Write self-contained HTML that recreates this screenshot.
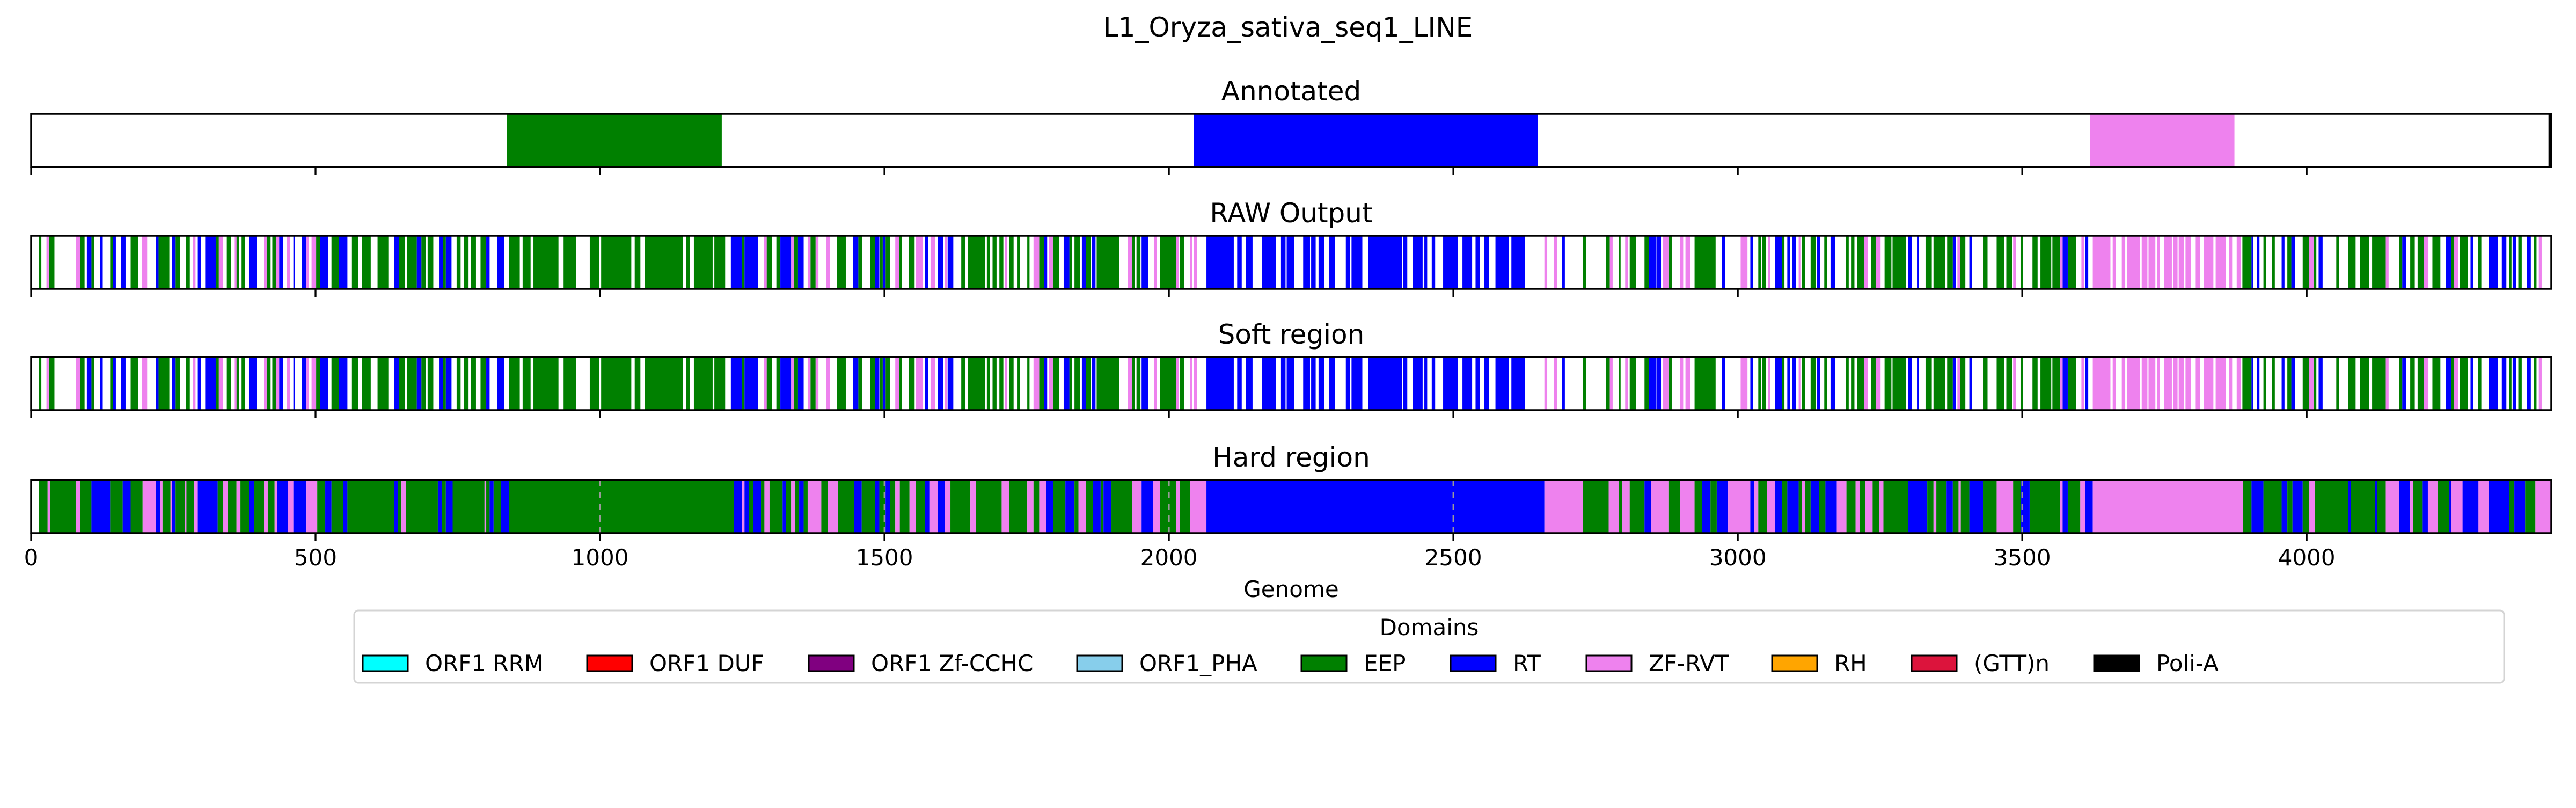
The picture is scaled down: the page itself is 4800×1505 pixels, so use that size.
<!DOCTYPE html>
<html><head><meta charset="utf-8"><style>
html,body{margin:0;padding:0;background:#fff}
svg text{font-family:"DejaVu Sans","Liberation Sans",sans-serif;fill:#000}
</style></head>
<body>
<svg id="chart" xmlns="http://www.w3.org/2000/svg" width="4800" height="1500" viewBox="0 0 4800 1500">
<rect x="0" y="0" width="4800" height="1500" fill="#fff"/>
<text x="2400" y="68" font-size="50" text-anchor="middle">L1_Oryza_sativa_seq1_LINE</text>
<g id="panels"></g>
<text x="2406" y="1112" font-size="42" text-anchor="middle">Genome</text>
<g id="legend"></g>
</svg>
<script>
const genomeLength = 4430;
const xTicks = [0,500,1000,1500,2000,2500,3000,3500,4000];
const gridLines = [1000,1500,2000,2500,3500];
const panelTitles = ["Annotated","RAW Output","Soft region","Hard region"];
const legendNames = ["ORF1 RRM","ORF1 DUF","ORF1 Zf-CCHC","ORF1_PHA","EEP","RT","ZF-RVT","RH","(GTT)n","Poli-A"];
const legendColors = ["#00ffff","#ff0000","#800080","#87ceeb","#008000","#0000ff","#ee82ee","#ffa500","#dc143c","#000000"];
const annotEEP = [[836,1214]];
const annotRT = [[2044,2648]];
const annotZF = [[3619,3873]];
const annotPoliA = [[4425,4430]];
const rawEEP = [[14,18],[32,41],[86,94],[106,111],[139,144],[175,188],[224,243],[254,262],[272,279],[325,330],[344,351],[361,366],[370,376],[414,421],[424,431],[501,508],[528,541],[563,575],[582,597],[609,628],[647,657],[661,678],[686,694],[697,707],[724,729],[748,755],[761,768],[773,782],[790,800],[840,859],[864,878],[883,927],[936,958],[982,999],[1002,1055],[1061,1071],[1079,1146],[1151,1158],[1165,1198],[1201,1220],[1249,1254],[1293,1302],[1310,1317],[1341,1348],[1370,1379],[1416,1432],[1454,1461],[1475,1483],
[1492,1497],[1502,1510],[1526,1531],[1543,1553],[1635,1642],[1647,1677],[1680,1685],[1690,1697],[1702,1709],[1719,1727],[1733,1738],[1751,1755],[1772,1781],[1796,1807],[1825,1830],[1834,1844],[1854,1863],[1873,1913],[1935,1940],[1943,1950],[1984,2013],[2019,2027],[2728,2733],[2768,2775],[2791,2794],[2810,2821],[2836,2844],[2879,2884],[2924,2961],
[3036,3041],[3043,3049],[3078,3082],[3113,3118],[3128,3137],[3152,3157],[3190,3195],[3200,3205],[3210,3222],[3234,3243],[3258,3270],[3272,3296],[3330,3341],[3344,3364],[3368,3378],[3391,3400],[3431,3439],[3455,3468],[3472,3482],[3497,3501],[3518,3527],[3532,3551],[3553,3566],[3580,3595],[3887,3903],[3924,3929],[3939,3944],[3966,3973],[3993,4004],[4012,4017],[4052,4057],[4073,4086],[4094,4110],[4115,4139],[4163,4168],[4182,4190],[4195,4206],[4221,4235],[4254,4259],[4269,4283],[4301,4307],[4356,4360],[4372,4378],[4399,4404]];
const rawRT = [[98,106],[121,125],[144,149],[158,166],[219,224],[248,254],[293,299],[306,325],[383,397],[436,443],[461,464],[476,484],[508,522],[541,556],[638,647],[678,686],[717,724],[729,739],[800,806],[819,832],[1230,1249],[1254,1278],[1317,1336],[1348,1358],[1445,1454],[1483,1491],
[1497,1502],[1571,1577],[1594,1603],[1611,1621],[1781,1786],[1815,1825],[1847,1854],[1865,1871],[1952,1964],[2066,2114],[2120,2128],[2135,2147],[2164,2188],[2197,2205],[2207,2220],[2236,2248],[2250,2258],[2263,2273],[2282,2292],[2311,2318],[2321,2340],[2350,2410],[2412,2419],[2429,2446],[2449,2454],[2462,2468],[2482,2508],[2516,2533],[2539,2547],[2554,2563],[2574,2598],[2602,2626],[2691,2696],[2844,2857],[2858,2865],
[2972,2978],[3022,3027],[3065,3078],[3087,3092],[3096,3102],[3139,3145],[3163,3171],[3299,3306],[3315,3318],[3378,3383],[3407,3412],[3571,3580],[3611,3616],[3903,3906],[3913,3917],[3956,3961],[3973,3980],[4021,4028],[4168,4175],[4245,4254],[4288,4293],[4320,4336],[4343,4351],[4362,4368],[4387,4394]];
const rawZF = [[27,31],[79,86],[195,204],[284,289],[330,337],[357,361],[409,414],[431,436],[450,455],[484,488],[493,501],[1288,1293],[1336,1341],[1365,1370],[1379,1384],[1398,1404],
[1519,1526],[1555,1567],[1581,1589],[1606,1610],[1712,1716],[1762,1772],[1789,1796],[1928,1935],[1974,1979],[2013,2017],[2037,2041],[2044,2049],[2660,2665],[2677,2682],[2775,2780],[2802,2807],[2868,2879],[2898,2904],[2908,2916],
[3005,3017],[3053,3057],[3107,3110],[3222,3229],[3243,3251],[3386,3391],[3484,3489],[3566,3571],[3604,3609],[3624,3655],[3659,3664],[3675,3681],[3684,3707],[3710,3720],[3722,3734],[3737,3742],[3749,3763],[3765,3773],[3775,3784],[3787,3797],[3804,3813],[3819,3836],[3840,3858],[3864,3869],[3877,3884],[4004,4012],[4139,4144],[4206,4214],[4259,4266],[4408,4413]];
const softEEP = rawEEP.slice();
const softRT = rawRT.slice();
const softZF = rawZF.slice();
const hardSegments = [[0,"W"],[14,"E"],[29,"Z"],[33,"E"],[79,"Z"],[86,"E"],[106,"R"],[139,"E"],[161,"R"],[175,"E"],[196,"Z"],[219,"R"],[227,"Z"],[231,"E"],[245,"Z"],[248,"R"],[254,"E"],[270,"Z"],[273,"E"],[286,"Z"],[293,"R"],[328,"E"],[337,"Z"],[346,"E"],[361,"Z"],[368,"E"],[383,"R"],[392,"E"],[409,"Z"],[416,"E"],[428,"Z"],[433,"R"],[451,"Z"],[461,"R"],[484,"Z"],[503,"E"],[517,"R"],[528,"E"],[549,"R"],[556,"E"],[638,"R"],[645,"E"],[651,"Z"],[659,"E"],[715,"R"],[722,"E"],[729,"R"],[741,"E"],[797,"Z"],[800,"E"],[806,"R"],[813,"E"],[826,"R"],[840,"E"],[1235,"R"],[1250,"Z"],[1254,"R"],[1262,"E"],[1269,"R"],[1283,"E"],[1289,"Z"],[1298,"E"],[1321,"R"],[1327,"E"],[1336,"Z"],[1343,"E"],[1350,"R"],[1358,"E"],[1365,"Z"],[1389,"E"],[1400,"Z"],[1418,"E"],[1447,"R"],[1460,"E"],[1483,"R"],[1491,"E"],
[1502,"R"],[1510,"E"],[1519,"Z"],[1527,"E"],[1544,"Z"],[1555,"E"],[1571,"R"],[1579,"Z"],[1594,"R"],[1606,"Z"],[1616,"E"],[1651,"Z"],[1661,"E"],[1706,"Z"],[1719,"E"],[1751,"Z"],[1762,"E"],[1772,"Z"],[1784,"R"],[1797,"E"],[1818,"R"],[1834,"E"],[1841,"Z"],[1854,"E"],[1866,"R"],[1880,"E"],[1885,"R"],[1899,"E"],[1935,"Z"],[1952,"R"],[1972,"Z"],[1984,"E"],[2013,"Z"],[2019,"E"],[2037,"Z"],[2066,"R"],[2660,"Z"],[2728,"E"],[2773,"Z"],[2791,"E"],[2797,"Z"],[2810,"E"],[2836,"R"],[2848,"Z"],[2879,"E"],[2898,"Z"],[2924,"E"],[2937,"R"],[2952,"E"],[2963,"R"],
[2983,"Z"],[3022,"R"],[3029,"Z"],[3036,"E"],[3051,"Z"],[3065,"R"],[3078,"E"],[3087,"R"],[3107,"E"],[3113,"Z"],[3118,"E"],[3128,"R"],[3143,"E"],[3154,"R"],[3174,"Z"],[3191,"E"],[3207,"Z"],[3214,"E"],[3224,"Z"],[3237,"E"],[3248,"Z"],[3256,"E"],[3299,"R"],[3333,"E"],[3344,"Z"],[3349,"E"],[3367,"R"],[3378,"E"],[3388,"Z"],[3392,"E"],[3407,"R"],[3431,"E"],[3455,"Z"],[3484,"E"],[3498,"R"],[3513,"E"],[3566,"Z"],[3571,"R"],[3580,"E"],[3602,"Z"],[3611,"R"],[3624,"Z"],[3888,"E"],[3903,"R"],[3924,"E"],[3956,"R"],[3966,"E"],[3975,"R"],[3993,"E"],[4004,"Z"],[4014,"E"],[4073,"R"],[4078,"E"],[4120,"R"],[4124,"E"],[4139,"Z"],[4163,"R"],[4182,"Z"],[4187,"E"],[4203,"R"],[4213,"Z"],[4230,"E"],[4250,"R"],[4254,"Z"],[4274,"R"],[4302,"Z"],[4320,"R"],[4356,"E"],[4365,"R"],[4384,"E"],[4402,"Z"]];

const NS = "http://www.w3.org/2000/svg";
const AX_L = 58, AX_R = 4754, AX_H = 99;
const panelTops = [212, 439, 665, 894];
const codeColor = {E:"#008000", R:"#0000ff", Z:"#ee82ee", P:"#000000"};
function xScale(v){ return AX_L + v * (AX_R - AX_L) / genomeLength; }
function mk(tag, attrs, parent){ const e = document.createElementNS(NS, tag); for (const k in attrs) e.setAttribute(k, attrs[k]); parent.appendChild(e); return e; }
const panelsG = document.getElementById("panels");

function drawRects(g, top, list, color, name){
  list.forEach(function(seg){
    const x0 = xScale(seg[0]), x1 = xScale(seg[1]);
    const r = mk("rect", {x:x0, y:top, width:Math.max(x1-x0,1), height:AX_H, fill:color}, g);
    
    
  });
}

panelTitles.forEach(function(title, i){
  const top = panelTops[i];
  const g = mk("g", {}, panelsG);
  
  
  const t = mk("text", {x:2406, y:top-25, "font-size":50, "text-anchor":"middle"}, g);
  t.textContent = title;
  
  
  if (i === 0) {
    drawRects(g, top, annotEEP, codeColor.E, 'eep-domain');
    drawRects(g, top, annotRT, codeColor.R, 'rt-domain');
    drawRects(g, top, annotZF, codeColor.Z, 'zf-rvt-domain');
    drawRects(g, top, annotPoliA, codeColor.P, 'poli-a-domain');
  } else if (i === 1) {
    drawRects(g, top, rawEEP, codeColor.E, 'eep-bar');
    drawRects(g, top, rawRT, codeColor.R, 'rt-bar');
    drawRects(g, top, rawZF, codeColor.Z, 'zf-rvt-bar');
  } else if (i === 2) {
    drawRects(g, top, softEEP, codeColor.E, 'eep-bar');
    drawRects(g, top, softRT, codeColor.R, 'rt-bar');
    drawRects(g, top, softZF, codeColor.Z, 'zf-rvt-bar');
  } else {
    hardSegments.forEach(function(s, k){
      if (s[1] === "W") return;
      const end = k+1 < hardSegments.length ? hardSegments[k+1][0] : genomeLength;
      const x0 = xScale(s[0]), x1 = xScale(end);
      const r = mk("rect", {x:x0, y:top, width:Math.max(x1-x0,1), height:AX_H, fill:codeColor[s[1]]}, g);
      
      
    });
    gridLines.forEach(function(v){
      const l = mk("line", {x1:xScale(v), x2:xScale(v), y1:top, y2:top+AX_H, stroke:"#999", "stroke-width":3, "stroke-dasharray":"12 10"}, g);
      
      
    });
  }
  const frame = mk("rect", {x:AX_L, y:top, width:AX_R-AX_L, height:AX_H, fill:"none", stroke:"#000", "stroke-width":3.5}, g);
  
  
  xTicks.forEach(function(v){
    const tk = mk("line", {x1:xScale(v), x2:xScale(v), y1:top+AX_H, y2:top+AX_H+15, stroke:"#000", "stroke-width":3.3}, g);
    
    
    if (i === 3) {
      const lb = mk("text", {x:xScale(v), y:top+AX_H+60, "font-size":42, "text-anchor":"middle"}, g);
      lb.textContent = String(v);
      
      
    }
  });
});

// legend
const lg = document.getElementById("legend");
const box = mk("rect", {x:660, y:1137, width:4006, height:135, rx:8, fill:"#fff", stroke:"#d4d4d4", "stroke-width":3}, lg);


const lt = mk("text", {x:2663, y:1183, "font-size":42, "text-anchor":"middle"}, lg);
lt.textContent = "Domains";


const legendX = [676,1094,1507,2007,2425,2703,2956,3302,3562,3902];
legendNames.forEach(function(n, k){
  const eg = mk("g", {}, lg);
  
  
  const p = mk("rect", {x:legendX[k], y:1221, width:84, height:29, fill:legendColors[k], stroke:"#000", "stroke-width":3}, eg);
  
  
  const tx = mk("text", {x:legendX[k]+116, y:1250, "font-size":42}, eg);
  tx.textContent = n;
  
  
});
</script>
</body></html>
